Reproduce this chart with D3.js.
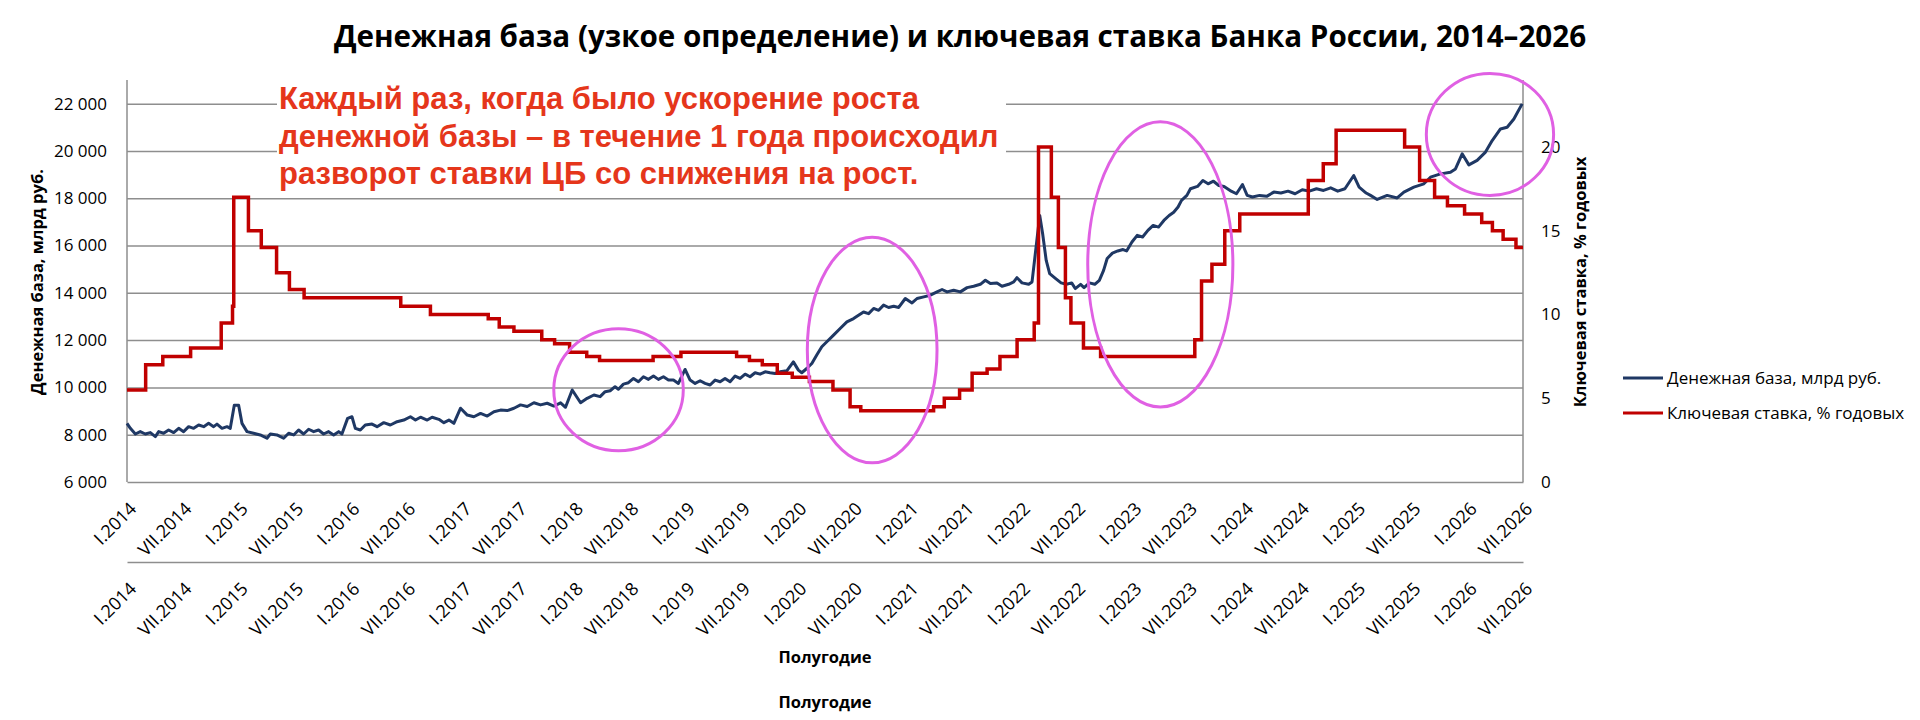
<!DOCTYPE html>
<html>
<head>
<meta charset="utf-8">
<script src="https://cdn.jsdelivr.net/npm/d3@7"></script>
<style>
  body { margin: 0; background: #fff; }
  svg { display: block; }
</style>
</head>
<body>
<svg id="chart"></svg>
<script>
// денежная база: время (доля года) и значение, млрд руб.
const mbYear = [
  2014.000, 2014.030, 2014.075, 2014.119, 2014.164, 2014.209, 2014.254, 2014.284, 2014.328, 2014.373,
  2014.418, 2014.463, 2014.507, 2014.552, 2014.597, 2014.642, 2014.687, 2014.731, 2014.776, 2014.806,
  2014.851, 2014.896, 2014.925, 2014.961, 2015.000, 2015.030, 2015.075, 2015.134, 2015.194, 2015.254,
  2015.284, 2015.343, 2015.403, 2015.448, 2015.493, 2015.537, 2015.582, 2015.627, 2015.672, 2015.716,
  2015.761, 2015.806, 2015.851, 2015.896, 2015.925, 2015.976, 2016.015, 2016.045, 2016.090, 2016.134,
  2016.194, 2016.239, 2016.299, 2016.358, 2016.418, 2016.478, 2016.537, 2016.582, 2016.627, 2016.687,
  2016.731, 2016.791, 2016.836, 2016.881, 2016.925, 2016.985, 2017.045, 2017.104, 2017.164, 2017.224,
  2017.284, 2017.343, 2017.403, 2017.463, 2017.522, 2017.582, 2017.642, 2017.701, 2017.761, 2017.821,
  2017.881, 2017.925, 2017.985, 2018.060, 2018.119, 2018.179, 2018.235, 2018.280, 2018.325, 2018.369,
  2018.399, 2018.444, 2018.489, 2018.534, 2018.578, 2018.623, 2018.668, 2018.713, 2018.757, 2018.802,
  2018.847, 2018.892, 2018.936, 2018.996, 2019.041, 2019.086, 2019.131, 2019.175, 2019.220, 2019.265,
  2019.310, 2019.354, 2019.399, 2019.444, 2019.489, 2019.534, 2019.578, 2019.623, 2019.668, 2019.713,
  2019.757, 2019.802, 2019.847, 2019.907, 2019.966, 2020.011, 2020.041, 2020.086, 2020.131, 2020.175,
  2020.220, 2020.265, 2020.325, 2020.384, 2020.444, 2020.504, 2020.548, 2020.593, 2020.638, 2020.683,
  2020.728, 2020.772, 2020.817, 2020.862, 2020.907, 2020.966, 2021.026, 2021.071, 2021.131, 2021.190,
  2021.250, 2021.295, 2021.340, 2021.399, 2021.459, 2021.519, 2021.578, 2021.638, 2021.683, 2021.728,
  2021.787, 2021.832, 2021.892, 2021.937, 2021.966, 2022.011, 2022.071, 2022.101, 2022.170, 2022.196,
  2022.228, 2022.259, 2022.313, 2022.361, 2022.409, 2022.456, 2022.488, 2022.536, 2022.567, 2022.615,
  2022.663, 2022.704, 2022.742, 2022.774, 2022.821, 2022.869, 2022.916, 2022.948, 2022.996, 2023.043,
  2023.091, 2023.139, 2023.186, 2023.234, 2023.282, 2023.329, 2023.370, 2023.409, 2023.440, 2023.488,
  2023.520, 2023.583, 2023.631, 2023.678, 2023.726, 2023.774, 2023.821, 2023.885, 2023.932, 2023.986,
  2024.028, 2024.075, 2024.139, 2024.202, 2024.266, 2024.329, 2024.393, 2024.456, 2024.520, 2024.583,
  2024.647, 2024.710, 2024.774, 2024.837, 2024.901, 2024.980, 2025.028, 2025.091, 2025.130, 2025.190,
  2025.279, 2025.369, 2025.429, 2025.518, 2025.608, 2025.667, 2025.757, 2025.846, 2025.891, 2025.951,
  2026.011, 2026.085, 2026.160, 2026.220, 2026.294, 2026.354, 2026.414, 2026.488
];
const mbValue = [
  8480, 8270, 8030, 8130, 8030, 8090, 7920, 8130, 8060, 8200,
  8090, 8270, 8130, 8340, 8270, 8410, 8340, 8480, 8340, 8450,
  8270, 8340, 8270, 9250, 9250, 8480, 8130, 8060, 7990, 7850,
  8030, 7990, 7850, 8060, 7990, 8200, 8030, 8230, 8130, 8200,
  8030, 8130, 7990, 8130, 8030, 8690, 8760, 8270, 8200, 8410,
  8450, 8340, 8510, 8410, 8550, 8620, 8760, 8620, 8740, 8620,
  8740, 8650, 8510, 8620, 8480, 9120, 8830, 8760, 8900, 8790,
  8970, 9040, 9020, 9120, 9260, 9190, 9350, 9260, 9330, 9210,
  9350, 9160, 9890, 9350, 9540, 9680, 9610, 9820, 9860, 10030,
  9920, 10140, 10200, 10380, 10240, 10450, 10340, 10480, 10340, 10450,
  10310, 10310, 10170, 10760, 10310, 10170, 10280, 10170, 10100, 10310,
  10240, 10380, 10240, 10480, 10380, 10560, 10450, 10620, 10560, 10660,
  10620, 10590, 10660, 10700, 11080, 10730, 10620, 10800, 11010, 11370,
  11720, 11930, 12210, 12490, 12770, 12910, 13050, 13190, 13120, 13340,
  13260, 13480, 13380, 13430, 13380, 13760, 13570, 13760, 13830, 13900,
  14040, 14140, 14040, 14110, 14040, 14220, 14280, 14360, 14530, 14390,
  14420, 14280, 14360, 14460, 14640, 14420, 14360, 14460, 17270, 16500,
  15370, 14810, 14600, 14420, 14360, 14420, 14180, 14360, 14220, 14420,
  14360, 14530, 14950, 15450, 15680, 15770, 15830, 15770, 16150, 16430,
  16360, 16640, 16850, 16780, 17060, 17270, 17410, 17630, 17910, 18120,
  18400, 18500, 18750, 18610, 18720, 18540, 18500, 18300, 18190, 18580,
  18120, 18050, 18120, 18080, 18260, 18220, 18300, 18190, 18360, 18300,
  18400, 18330, 18440, 18300, 18400, 18960, 18470, 18220, 18120, 17950,
  18120, 18010, 18260, 18470, 18610, 18890, 19030, 19100, 19240, 19880,
  19410, 19600, 19950, 20440, 20930, 21000, 21350, 21990
];

// ключевая ставка: дата решения и ставка, % годовых
const krDate = [
  "2014-01-01", "2014-03-03", "2014-04-28", "2014-07-28", "2014-11-05", "2014-12-12", "2014-12-16",
  "2015-02-02", "2015-03-16", "2015-05-05", "2015-06-16", "2015-08-03", "2016-06-14", "2016-09-19",
  "2017-03-27", "2017-05-02", "2017-06-19", "2017-09-18", "2017-10-30", "2017-12-18", "2018-02-12",
  "2018-03-26", "2018-09-17", "2018-12-17", "2019-06-17", "2019-07-29", "2019-09-09", "2019-10-28",
  "2019-12-16", "2020-02-10", "2020-04-27", "2020-06-22", "2020-07-27", "2021-03-22", "2021-04-26",
  "2021-06-15", "2021-07-26", "2021-09-13", "2021-10-25", "2021-12-20", "2022-02-14", "2022-02-28",
  "2022-04-11", "2022-05-04", "2022-05-27", "2022-06-14", "2022-07-25", "2022-09-19", "2023-07-24",
  "2023-08-15", "2023-09-18", "2023-10-30", "2023-12-18", "2024-07-29", "2024-09-16", "2024-10-28",
  "2025-06-09", "2025-07-28", "2025-09-15", "2025-10-27", "2025-12-22", "2026-02-16", "2026-03-23",
  "2026-04-27", "2026-06-08"
];
const krValue = [
  5.5, 7, 7.5, 8, 9.5, 10.5, 17,
  15, 14, 12.5, 11.5, 11, 10.5, 10,
  9.75, 9.25, 9, 8.5, 8.25, 7.75, 7.5,
  7.25, 7.5, 7.75, 7.5, 7.25, 7, 6.5,
  6.25, 6, 5.5, 4.5, 4.25, 4.5, 5,
  5.5, 6.5, 6.75, 7.5, 8.5, 9.5, 20,
  17, 14, 11, 9.5, 8, 7.5, 8.5,
  12, 13, 15, 16, 18, 19, 21,
  20, 18, 17, 16.5, 16, 15.5, 15,
  14.5, 14
];

const halfYears = [
  "I.2014", "VII.2014", "I.2015", "VII.2015", "I.2016", "VII.2016", "I.2017", "VII.2017",
  "I.2018", "VII.2018", "I.2019", "VII.2019", "I.2020", "VII.2020", "I.2021", "VII.2021",
  "I.2022", "VII.2022", "I.2023", "VII.2023", "I.2024", "VII.2024", "I.2025", "VII.2025",
  "I.2026", "VII.2026"
];
const leftTicks = [6000, 8000, 10000, 12000, 14000, 16000, 18000, 20000, 22000];
const rightTicks = [0, 5, 10, 15, 20];
const seriesNames = ["Денежная база, млрд руб.", "Ключевая ставка, % годовых"];
const noteLines = [
  "Каждый раз, когда было ускорение роста",
  "денежной базы – в течение 1 года происходил",
  "разворот ставки ЦБ со снижения на рост."
];
// выделенные эпизоды: центр (год, млрд руб.) и полуоси
const circleYear = [2018.40, 2020.67, 2023.25, 2026.20];
const circleValue = [9900, 11580, 15200, 20700];
const circleHalfYears = [0.58, 0.58, 0.65, 0.57];
const circleHalfValue = [2580, 4770, 6030, 2580];

const W = 1920, H = 720;
const m = {left: 127, right: 1523, top: 80, bottom: 482};
const blue = "#1f3864", red = "#c00000", grid = "#8e8e8e", pink = "#e060e3";
const axisFont = "'Open Sans', 'Noto Sans', sans-serif";

function yearToDate(t) {
  const y = Math.floor(t);
  const a = new Date(y, 0, 1), b = new Date(y + 1, 0, 1);
  return new Date(+a + (t - y) * (b - a));
}
function labelToDate(s) {
  const p = s.split(".");
  return new Date(+p[1], p[0] == "I" ? 0 : 6, 1);
}

const parse = d3.timeParse("%Y-%m-%d");
const mb = mbYear.map((t, i) => ({date: yearToDate(t), value: mbValue[i]}));
const kr = krDate.map((d, i) => ({date: parse(d), value: krValue[i]}));

const x = d3.scaleTime()
  .domain([new Date(2014, 0, 1), new Date(2026, 6, 1)])
  .range([m.left, m.right]);
const yL = d3.scaleLinear().domain([6000, 23000]).range([m.bottom, m.top]);
const yR = d3.scaleLinear().domain([0, 24]).range([m.bottom, m.top]);

// ставка тянется до правого края оси
kr.push({date: x.domain()[1], value: krValue[krValue.length - 1]});

const svg = d3.select("#chart").attr("width", W).attr("height", H);

// title
svg.append("text")
  .attr("x", 960).attr("y", 47)
  .attr("text-anchor", "middle")
  .style("font-family", axisFont)
  .style("font-weight", 700)
  .style("font-size", "29.6px")
  .text("Денежная база (узкое определение) и ключевая ставка Банка России, 2014–2026");

// gridlines
svg.append("g")
  .attr("transform", "translate(" + m.left + ",0)")
  .call(d3.axisLeft(yL).tickValues(leftTicks.slice(1)).tickSize(-(m.right - m.left)).tickFormat(""))
  .call(g => g.select(".domain").remove())
  .selectAll("line").attr("stroke", grid).attr("stroke-width", 1.5);

// left axis
const fmt = d => d3.format(",")(d).replace(",", " ");
const gL = svg.append("g")
  .attr("transform", "translate(" + m.left + ",0)")
  .call(d3.axisLeft(yL).tickValues(leftTicks).tickSize(0).tickPadding(20).tickFormat(fmt));
gL.select(".domain").attr("stroke", grid).attr("stroke-width", 1.5).attr("d", "M0," + m.top + "V" + m.bottom);
gL.selectAll("text").style("font-family", axisFont).style("font-size", "17px").attr("fill", "#000");

// right axis
const gR = svg.append("g")
  .attr("transform", "translate(" + m.right + ",0)")
  .call(d3.axisRight(yR).tickValues(rightTicks).tickSize(0).tickPadding(18));
gR.select(".domain").attr("stroke", grid).attr("stroke-width", 1.5).attr("d", "M0," + m.top + "V" + m.bottom);
gR.selectAll("text").style("font-family", axisFont).style("font-size", "17px").attr("fill", "#000");

// two rows of half-year labels
const labelDates = halfYears.map(labelToDate);
[m.bottom, 562].forEach(yPos => {
  const gX = svg.append("g")
    .attr("transform", "translate(0," + yPos + ")")
    .call(d3.axisBottom(x).tickValues(labelDates).tickSize(0).tickFormat((d, i) => halfYears[i]));
  gX.select(".domain").attr("stroke", grid).attr("stroke-width", 1.5);
  gX.selectAll("text")
    .attr("x", 0).attr("y", 0).attr("dy", 0)
    .attr("text-anchor", "end")
    .attr("transform", "translate(10,28) rotate(-45)")
    .style("font-family", axisFont).style("font-size", "18px").attr("fill", "#000");
});

// axis titles
svg.append("text")
  .attr("transform", "translate(43,282) rotate(-90)")
  .attr("text-anchor", "middle")
  .style("font-family", axisFont).style("font-weight", 700).style("font-size", "16.5px")
  .text(seriesNames[0]);
svg.append("text")
  .attr("transform", "translate(1586,282) rotate(-90)")
  .attr("text-anchor", "middle")
  .style("font-family", axisFont).style("font-weight", 700).style("font-size", "16.5px")
  .text(seriesNames[1]);
[663, 708].forEach(yPos => {
  svg.append("text")
    .attr("x", (m.left + m.right) / 2).attr("y", yPos)
    .attr("text-anchor", "middle")
    .style("font-family", axisFont).style("font-weight", 700).style("font-size", "16.5px")
    .text("Полугодие");
});

// series
const lineMb = d3.line().x(d => x(d.date)).y(d => yL(d.value));
const lineKr = d3.line().curve(d3.curveStepAfter).x(d => x(d.date)).y(d => yR(d.value));

svg.append("path").datum(mb)
  .attr("d", lineMb)
  .attr("fill", "none").attr("stroke", blue).attr("stroke-width", 3)
  .attr("stroke-linejoin", "round");
svg.append("path").datum(kr)
  .attr("d", lineKr)
  .attr("fill", "none").attr("stroke", red).attr("stroke-width", 3.5);

// note box
svg.append("rect")
  .attr("x", 277).attr("y", 78).attr("width", 729).attr("height", 112)
  .attr("fill", "#fff");
svg.append("g").selectAll("text")
  .data(noteLines).join("text")
  .attr("x", 279).attr("y", (d, i) => 109 + i * 37.5)
  .style("font-family", "'Liberation Sans', Arial, sans-serif")
  .style("font-weight", 700).style("font-size", "31px")
  .attr("fill", "#e5361b")
  .text(d => d);

// highlighted episodes
svg.append("g").selectAll("ellipse")
  .data(circleYear).join("ellipse")
  .attr("cx", d => x(yearToDate(d)))
  .attr("cy", (d, i) => yL(circleValue[i]))
  .attr("rx", (d, i) => x(yearToDate(d + circleHalfYears[i])) - x(yearToDate(d)))
  .attr("ry", (d, i) => yL(circleValue[i] - circleHalfValue[i]) - yL(circleValue[i]))
  .attr("fill", "none").attr("stroke", pink).attr("stroke-width", 3);

// legend
const leg = svg.append("g").attr("transform", "translate(1623,378)");
seriesNames.forEach((name, i) => {
  const row = leg.append("g").attr("transform", "translate(0," + i * 35 + ")");
  row.append("line").attr("x1", 0).attr("x2", 40)
    .attr("stroke", i == 0 ? blue : red).attr("stroke-width", 3);
  row.append("text").attr("x", 44).attr("y", 6)
    .style("font-family", axisFont).style("font-size", "17px")
    .text(name);
});
</script>
</body>
</html>
